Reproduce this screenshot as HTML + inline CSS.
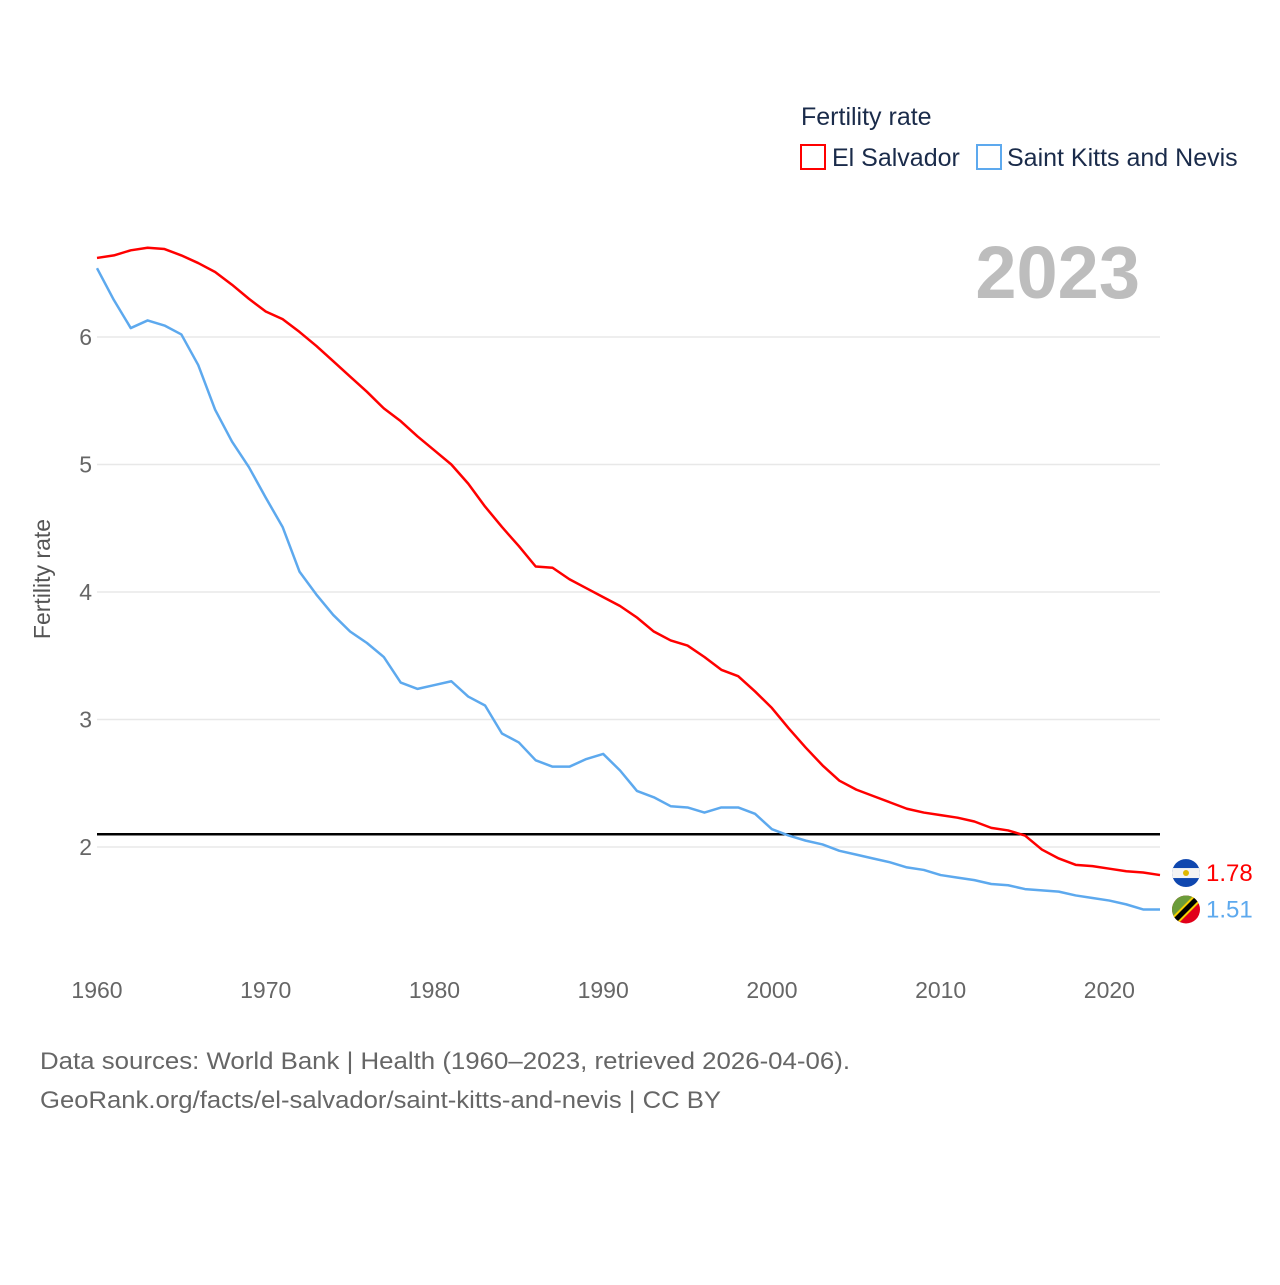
<!DOCTYPE html>
<html><head><meta charset="utf-8"><style>
body{margin:0;background:#fff;font-family:"Liberation Sans",sans-serif;}
svg text{font-family:"Liberation Sans",sans-serif;}
</style></head><body>
<svg width="1280" height="1280" viewBox="0 0 1280 1280" xmlns="http://www.w3.org/2000/svg">
<rect width="1280" height="1280" fill="#fff"/>
<g id="grid"></g>
<g id="yticks"></g>
<g id="xticks"></g>
<text x="50" y="579" transform="rotate(-90 50 579)" text-anchor="middle" font-size="23" fill="#555">Fertility rate</text>
<text x="1140" y="298" text-anchor="end" font-size="74" font-weight="bold" fill="#bdbdbd">2023</text>
<g id="series"></g>
<text x="801" y="125" font-size="25" fill="#1a2b4a">Fertility rate</text>
<g>
<rect x="801" y="145" width="24" height="24" fill="none" stroke="#ff0000" stroke-width="2"/>
<text x="832" y="166" font-size="25" fill="#1a2b4a">El Salvador</text></g>
<g>
<rect x="977" y="145" width="24" height="24" fill="none" stroke="#5da9ee" stroke-width="2"/>
<text x="1007" y="166" font-size="25" fill="#1a2b4a">Saint Kitts and Nevis</text></g>
<text x="40" y="1069" font-size="24" fill="#666" textLength="810" lengthAdjust="spacingAndGlyphs">Data sources: World Bank | Health (1960–2023, retrieved 2026-04-06).</text>
<text x="40" y="1108" font-size="24" fill="#666" textLength="681" lengthAdjust="spacingAndGlyphs">GeoRank.org/facts/el-salvador/saint-kitts-and-nevis | CC BY</text>
</svg>
<script>
const years=[];for(let y=1960;y<=2023;y++)years.push(y);
const elSalvador=[6.62,6.64,6.68,6.70,6.69,6.64,6.58,6.51,6.41,6.30,6.20,6.14,6.04,5.93,5.81,5.69,5.57,5.44,5.34,5.22,5.11,5.00,4.85,4.67,4.51,4.36,4.20,4.19,4.10,4.03,3.96,3.89,3.80,3.69,3.62,3.58,3.49,3.39,3.34,3.22,3.09,2.93,2.78,2.64,2.52,2.45,2.40,2.35,2.30,2.27,2.25,2.23,2.20,2.15,2.13,2.09,1.98,1.91,1.86,1.85,1.83,1.81,1.80,1.78];
const saintKitts=[6.54,6.29,6.07,6.13,6.09,6.02,5.78,5.43,5.18,4.98,4.74,4.51,4.16,3.98,3.82,3.69,3.60,3.49,3.29,3.24,3.27,3.30,3.18,3.11,2.89,2.82,2.68,2.63,2.63,2.69,2.73,2.60,2.44,2.39,2.32,2.31,2.27,2.31,2.31,2.26,2.14,2.09,2.05,2.02,1.97,1.94,1.91,1.88,1.84,1.82,1.78,1.76,1.74,1.71,1.70,1.67,1.66,1.65,1.62,1.60,1.58,1.55,1.51,1.51];
const yTicks=[2,3,4,5,6];
const xTicks=[1960,1970,1980,1990,2000,2010,2020];
const refLine=2.1;
const NS="http://www.w3.org/2000/svg";
const X=y=>97+(y-1960)*(1160-97)/63;
const Y=v=>847-(v-2)*127.5;
function mk(tag,at,parent){const e=document.createElementNS(NS,tag);for(const k in at)e.setAttribute(k,at[k]);parent.appendChild(e);return e;}
const grid=document.getElementById('grid'),yt=document.getElementById('yticks'),xt=document.getElementById('xticks'),ser=document.getElementById('series');
yTicks.forEach(v=>{
 const l=mk('line',{x1:97,x2:1160,y1:Y(v),y2:Y(v),stroke:'#e8e8e8','stroke-width':1.5},grid);
 
 
 const t=mk('text',{x:92,y:Y(v)+8,'text-anchor':'end','font-size':23,fill:'#666'},yt);t.textContent=v;
 
 
});
xTicks.forEach(v=>{
 const t=mk('text',{x:X(v),y:998,'text-anchor':'middle','font-size':23,fill:'#666'},xt);t.textContent=v;
 
 
});
const rl=mk('line',{x1:97,x2:1160,y1:Y(refLine),y2:Y(refLine),stroke:'#000','stroke-width':2.5},ser);


function line(data,color,name){
 const p=mk('polyline',{points:data.map((v,i)=>X(years[i])+','+Y(v)).join(' '),fill:'none',stroke:color,'stroke-width':2.5,'stroke-linejoin':'round'},ser);
 
 
}
line(saintKitts,'#5da9ee','line-saint-kitts');
line(elSalvador,'#ff0000','line-el-salvador');
const eV=elSalvador[elSalvador.length-1],sV=saintKitts[saintKitts.length-1];
const ey=Y(eV)-2,sy=Y(sV);
const f1=mk('g',{},ser);


mk('clipPath',{id:'c1'},f1);mk('circle',{cx:1186,cy:ey,r:14},document.getElementById('c1'));
const g1=mk('g',{'clip-path':'url(#c1)'},f1);
mk('rect',{x:1172,y:ey-14,width:28,height:28,fill:'#0f47af'},g1);
mk('rect',{x:1172,y:ey-5,width:28,height:10,fill:'#f4f4f4'},g1);
mk('circle',{cx:1186,cy:ey,r:3,fill:'#e0b800'},g1);
const f2=mk('g',{},ser);


mk('clipPath',{id:'c2'},f2);mk('circle',{cx:1186,cy:sy,r:14},document.getElementById('c2'));
const g2=mk('g',{'clip-path':'url(#c2)'},f2);
mk('rect',{x:1172,y:sy-14,width:28,height:28,fill:'#e1001a'},g2);
mk('polygon',{points:`1172,${sy-14} 1200,${sy-14} 1172,${sy+14}`,fill:'#6b9c3a'},g2);
mk('line',{x1:1172,y1:sy+14,x2:1200,y2:sy-14,stroke:'#f5d000','stroke-width':9},g2);
mk('line',{x1:1172,y1:sy+14,x2:1200,y2:sy-14,stroke:'#000','stroke-width':5},g2);
const l1=mk('text',{x:1206,y:ey+8,'font-size':24,fill:'#ff0000'},ser);l1.textContent=eV.toFixed(2);


const l2=mk('text',{x:1206,y:sy+8,'font-size':24,fill:'#5da9ee'},ser);l2.textContent=sV.toFixed(2);


</script>
</body></html>
